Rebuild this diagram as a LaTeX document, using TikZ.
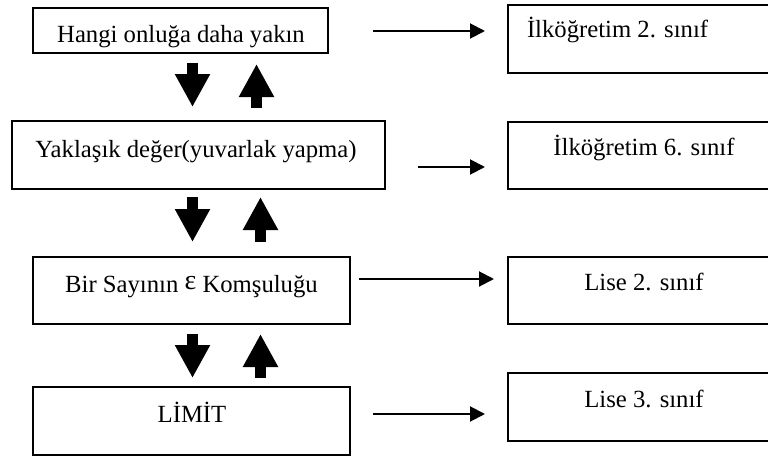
\documentclass[tikz,border=0pt]{standalone}
\usepackage{fontspec}
\setmainfont{Liberation Serif}
\usetikzlibrary{arrows.meta}
\begin{document}
\begin{tikzpicture}[x=0.5pt,y=-0.5pt,
  box/.style={draw, line width=1pt, rectangle, inner sep=0pt, outer sep=0pt},
  lbl/.style={inner sep=0pt, outer sep=0pt, font=\fontsize{12.35}{15}\selectfont},
  harrow/.style={line width=1pt, -{Triangle[length=7.5pt,width=7.5pt]}},
  blockarrow/.style={line width=5.5pt, -{Triangle[length=16.5pt,width=16.5pt]}}]
\useasboundingbox (0,0) rectangle (768,456);
\clip (0,0) rectangle (768,456);
\fill[white] (0,0) rectangle (768,456);

% left boxes
\node[box, minimum width=147.5pt, minimum height=22.5pt] (L1) at (180.5,30.5) {};
\node[box, minimum width=186.5pt, minimum height=34pt] (L2) at (198.5,155) {};
\node[box, minimum width=158.5pt, minimum height=33.5pt] (L3) at (191.5,290.5) {};
\node[box, minimum width=158.5pt, minimum height=34pt] (L4) at (191.5,421) {};

% right boxes (cut by the right edge)
\node[box, minimum width=141pt, minimum height=34pt] (R1) at (649,39) {};
\node[box, minimum width=141pt, minimum height=33.5pt] (R2) at (649,155.5) {};
\node[box, minimum width=141pt, minimum height=33.5pt] (R3) at (649,290.5) {};
\node[box, minimum width=141pt, minimum height=34pt] (R4) at (649,407) {};

% texts
\node[lbl, anchor=base] (t1) at (181,42) {Hangi onluğa daha yakın};
\node[lbl, anchor=base] (t2) at (196,157) {Yaklaşık değer(yuvarlak yapma)};
\node[lbl, anchor=base] (t3) at (191.5,292) {Bir Sayının \raisebox{1.2pt}{\fontsize{14}{15}\selectfont ε} Komşuluğu};
\node[lbl, anchor=base] (t4) at (192,422) {LİMİT};
\node[lbl, anchor=base west] (r1) at (527,37) {İlköğretim 2. sınıf};
\node[lbl, anchor=base] (r2) at (644,155) {İlköğretim 6. sınıf};
\node[lbl, anchor=base] (r3) at (644,290) {Lise 2. sınıf};
\node[lbl, anchor=base] (r4) at (644,407) {Lise 3. sınıf};

% horizontal arrows
\coordinate (a1s) at (373,31);  \coordinate (a1e) at (485,31);
\coordinate (a2s) at (418,167); \coordinate (a2e) at (485,167);
\coordinate (a3s) at (359,279); \coordinate (a3e) at (494,279);
\coordinate (a4s) at (373,414); \coordinate (a4e) at (485,414);
\draw[harrow] (a1s) -- (a1e);
\draw[harrow] (a2s) -- (a2e);
\draw[harrow] (a3s) -- (a3e);
\draw[harrow] (a4s) -- (a4e);

% block arrows
\coordinate (d1s) at (192.5,63);  \coordinate (d1e) at (192.5,107);
\coordinate (u1s) at (256.5,108); \coordinate (u1e) at (256.5,64);
\coordinate (d2s) at (192.5,197); \coordinate (d2e) at (192.5,242);
\coordinate (u2s) at (260.5,242); \coordinate (u2e) at (260.5,197);
\coordinate (d3s) at (192.5,334); \coordinate (d3e) at (192.5,378);
\coordinate (u3s) at (260.5,378); \coordinate (u3e) at (260.5,334);
\draw[blockarrow] (d1s) -- (d1e);
\draw[blockarrow] (u1s) -- (u1e);
\draw[blockarrow] (d2s) -- (d2e);
\draw[blockarrow] (u2s) -- (u2e);
\draw[blockarrow] (d3s) -- (d3e);
\draw[blockarrow] (u3s) -- (u3e);
\end{tikzpicture}
\end{document}
